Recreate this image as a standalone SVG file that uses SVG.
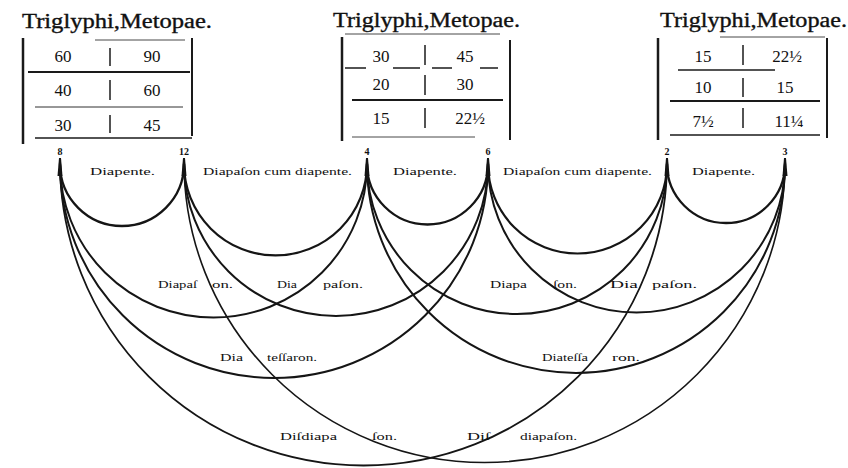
<svg xmlns="http://www.w3.org/2000/svg" width="848" height="468" viewBox="0 0 848 468">
<style>
.title{font-family:"Liberation Serif","DejaVu Serif",serif;font-size:20px;fill:#111;stroke:#111;stroke-width:0.35}
.num{font-family:"Liberation Serif","DejaVu Serif",serif;font-size:17px;fill:#111;text-anchor:middle}
.pt{font-family:"Liberation Serif","DejaVu Serif",serif;font-size:10px;font-weight:bold;fill:#111;text-anchor:middle}
.lbl{font-family:"Liberation Serif","DejaVu Serif",serif;font-size:10px;fill:#111}
.rule{stroke:#1a1a1a;fill:none}
.arc{stroke:#151515;fill:none;stroke-linecap:round}
.post{fill:#151515}
</style>
<rect width="848" height="468" fill="#ffffff"/>

<g id="table-left">
<text class="title" x="22" y="28" textLength="190" lengthAdjust="spacingAndGlyphs">Triglyphi,Metopae.</text>
<line class="rule" x1="23" y1="38" x2="23" y2="144" stroke-width="2.5"/>
<line class="rule" x1="192" y1="38" x2="192" y2="136" stroke-width="2"/>
<line class="rule" x1="95" y1="40" x2="185" y2="40" stroke-width="0.8"/>
<line class="rule" x1="28" y1="72" x2="190" y2="72" stroke-width="2"/>
<line class="rule" x1="35" y1="107" x2="183" y2="107" stroke-width="0.9"/>
<line class="rule" x1="35" y1="138" x2="192" y2="138" stroke-width="1.5"/>
<line class="rule" x1="110" y1="48" x2="110" y2="66" stroke-width="1.5"/>
<line class="rule" x1="110" y1="80" x2="110" y2="100" stroke-width="1.5"/>
<line class="rule" x1="110" y1="115" x2="110" y2="133" stroke-width="1.5"/>
<text class="num" x="63" y="62">60</text><text class="num" x="152" y="62">90</text>
<text class="num" x="63" y="96">40</text><text class="num" x="152" y="96">60</text>
<text class="num" x="63" y="131">30</text><text class="num" x="152" y="131">45</text>
</g>

<g id="table-middle">
<text class="title" x="333" y="27" textLength="187" lengthAdjust="spacingAndGlyphs">Triglyphi,Metopae.</text>
<line class="rule" x1="342" y1="37" x2="342" y2="141" stroke-width="2.5"/>
<line class="rule" x1="510" y1="40" x2="510" y2="140" stroke-width="2"/>
<line class="rule" x1="345" y1="34" x2="500" y2="34" stroke-width="0.8"/>
<line class="rule" x1="345" y1="68" x2="366" y2="68" stroke-width="1.5"/>
<line class="rule" x1="393" y1="68" x2="420" y2="68" stroke-width="1.5"/>
<line class="rule" x1="432" y1="68" x2="452" y2="68" stroke-width="1.5"/>
<line class="rule" x1="480" y1="68" x2="498" y2="68" stroke-width="1.5"/>
<line class="rule" x1="352" y1="100" x2="503" y2="100" stroke-width="2"/>
<line class="rule" x1="352" y1="137" x2="475" y2="137" stroke-width="0.8"/>
<line class="rule" x1="425" y1="45" x2="425" y2="65" stroke-width="1.5"/>
<line class="rule" x1="425" y1="75" x2="425" y2="95" stroke-width="1.5"/>
<line class="rule" x1="425" y1="108" x2="425" y2="128" stroke-width="1.5"/>
<text class="num" x="381" y="62">30</text><text class="num" x="465" y="62">45</text>
<text class="num" x="381" y="90">20</text><text class="num" x="465" y="90">30</text>
<text class="num" x="381" y="124">15</text><text class="num" x="470" y="124">22½</text>
</g>

<g id="table-right">
<text class="title" x="660" y="27" textLength="187" lengthAdjust="spacingAndGlyphs">Triglyphi,Metopae.</text>
<line class="rule" x1="658" y1="38" x2="658" y2="140" stroke-width="2.5"/>
<line class="rule" x1="827" y1="38" x2="827" y2="138" stroke-width="2"/>
<line class="rule" x1="720" y1="37" x2="825" y2="37" stroke-width="0.8"/>
<line class="rule" x1="678" y1="70" x2="775" y2="70" stroke-width="1.5"/>
<line class="rule" x1="670" y1="101" x2="820" y2="101" stroke-width="2"/>
<line class="rule" x1="670" y1="135" x2="820" y2="135" stroke-width="1.5"/>
<line class="rule" x1="743" y1="45" x2="743" y2="65" stroke-width="1.5"/>
<line class="rule" x1="743" y1="78" x2="743" y2="97" stroke-width="1.5"/>
<line class="rule" x1="743" y1="108" x2="743" y2="128" stroke-width="1.5"/>
<text class="num" x="703" y="62">15</text><text class="num" x="787" y="62">22½</text>
<text class="num" x="703" y="93">10</text><text class="num" x="785" y="93">15</text>
<text class="num" x="703" y="127">7½</text><text class="num" x="789" y="127">11¼</text>
</g>

<g id="point-8"><text class="pt" x="60" y="155">8</text><path class="post" d="M59 158 L61 158 L62.5 176 L57.5 176 Z"/></g>
<g id="point-12"><text class="pt" x="184" y="155">12</text><path class="post" d="M183 158 L185 158 L186.5 176 L181.5 176 Z"/></g>
<g id="point-4"><text class="pt" x="367" y="155">4</text><path class="post" d="M366 158 L368 158 L369.5 176 L364.5 176 Z"/></g>
<g id="point-6"><text class="pt" x="488" y="155">6</text><path class="post" d="M487 158 L489 158 L490.5 176 L485.5 176 Z"/></g>
<g id="point-2"><text class="pt" x="667" y="155">2</text><path class="post" d="M666 158 L668 158 L669.5 176 L664.5 176 Z"/></g>
<g id="point-3"><text class="pt" x="785" y="155">3</text><path class="post" d="M784 158 L786 158 L787.5 176 L782.5 176 Z"/></g>

<g id="connectors">
<path class="arc" stroke-width="2.3" d="M60 164 A62 62 0 0 0 184 164"/>
<path class="arc" stroke-width="2.2" d="M184 164 A91.5 91.5 0 0 0 367 164"/>
<path class="arc" stroke-width="2.3" d="M367 164 A60.5 60.5 0 0 0 488 164"/>
<path class="arc" stroke-width="2.2" d="M488 164 A89.5 89.5 0 0 0 667 164"/>
<path class="arc" stroke-width="2.3" d="M667 164 A59 59 0 0 0 785 164"/>
<path class="arc" stroke-width="2" d="M60 164 A153.5 153.5 0 0 0 367 164"/>
<path class="arc" stroke-width="2" d="M184 164 A152 152 0 0 0 488 164"/>
<path class="arc" stroke-width="2" d="M367 164 A150 150 0 0 0 667 164"/>
<path class="arc" stroke-width="2" d="M488 164 A148.5 148.5 0 0 0 785 164"/>
<path class="arc" stroke-width="2" d="M60 164 A214 214 0 0 0 488 164"/>
<path class="arc" stroke-width="2" d="M367 164 A209 209 0 0 0 785 164"/>
<path class="arc" stroke-width="1.8" d="M60 162 A303.5 303.5 0 0 0 667 162"/>
<path class="arc" stroke-width="1.6" d="M184 162 A300.5 300.5 0 0 0 785 162"/>
</g>

<g id="labels">
<text class="lbl" x="90" y="175" textLength="65" lengthAdjust="spacingAndGlyphs">Diapente.</text>
<text class="lbl" x="203" y="175" textLength="149" lengthAdjust="spacingAndGlyphs">Diapaſon cum diapente.</text>
<text class="lbl" x="393" y="175" textLength="64" lengthAdjust="spacingAndGlyphs">Diapente.</text>
<text class="lbl" x="503" y="175" textLength="149" lengthAdjust="spacingAndGlyphs">Diapaſon cum diapente.</text>
<text class="lbl" x="692" y="175" textLength="63" lengthAdjust="spacingAndGlyphs">Diapente.</text>

<text class="lbl" x="158" y="288" textLength="39" lengthAdjust="spacingAndGlyphs">Diapaſ</text>
<text class="lbl" x="212" y="288" textLength="21" lengthAdjust="spacingAndGlyphs">on.</text>
<text class="lbl" x="277" y="288" textLength="20" lengthAdjust="spacingAndGlyphs">Dia</text>
<text class="lbl" x="323" y="288" textLength="40" lengthAdjust="spacingAndGlyphs">paſon.</text>
<text class="lbl" x="490" y="288" textLength="37" lengthAdjust="spacingAndGlyphs">Diapa</text>
<text class="lbl" x="553" y="288" textLength="24" lengthAdjust="spacingAndGlyphs">ſon.</text>
<text class="lbl" x="610" y="288" textLength="28" lengthAdjust="spacingAndGlyphs">Dia</text>
<text class="lbl" x="652" y="288" textLength="45" lengthAdjust="spacingAndGlyphs">paſon.</text>

<text class="lbl" x="220" y="361" textLength="23" lengthAdjust="spacingAndGlyphs">Dia</text>
<text class="lbl" x="267" y="361" textLength="50" lengthAdjust="spacingAndGlyphs">teſſaron.</text>
<text class="lbl" x="542" y="361" textLength="46" lengthAdjust="spacingAndGlyphs">Diateſſa</text>
<text class="lbl" x="612" y="361" textLength="28" lengthAdjust="spacingAndGlyphs">ron.</text>

<text class="lbl" x="280" y="440" textLength="57" lengthAdjust="spacingAndGlyphs">Diſdiapa</text>
<text class="lbl" x="372" y="440" textLength="25" lengthAdjust="spacingAndGlyphs">ſon.</text>
<text class="lbl" x="467" y="440" textLength="23" lengthAdjust="spacingAndGlyphs">Diſ</text>
<text class="lbl" x="520" y="440" textLength="57" lengthAdjust="spacingAndGlyphs">diapaſon.</text>
</g>
</svg>
